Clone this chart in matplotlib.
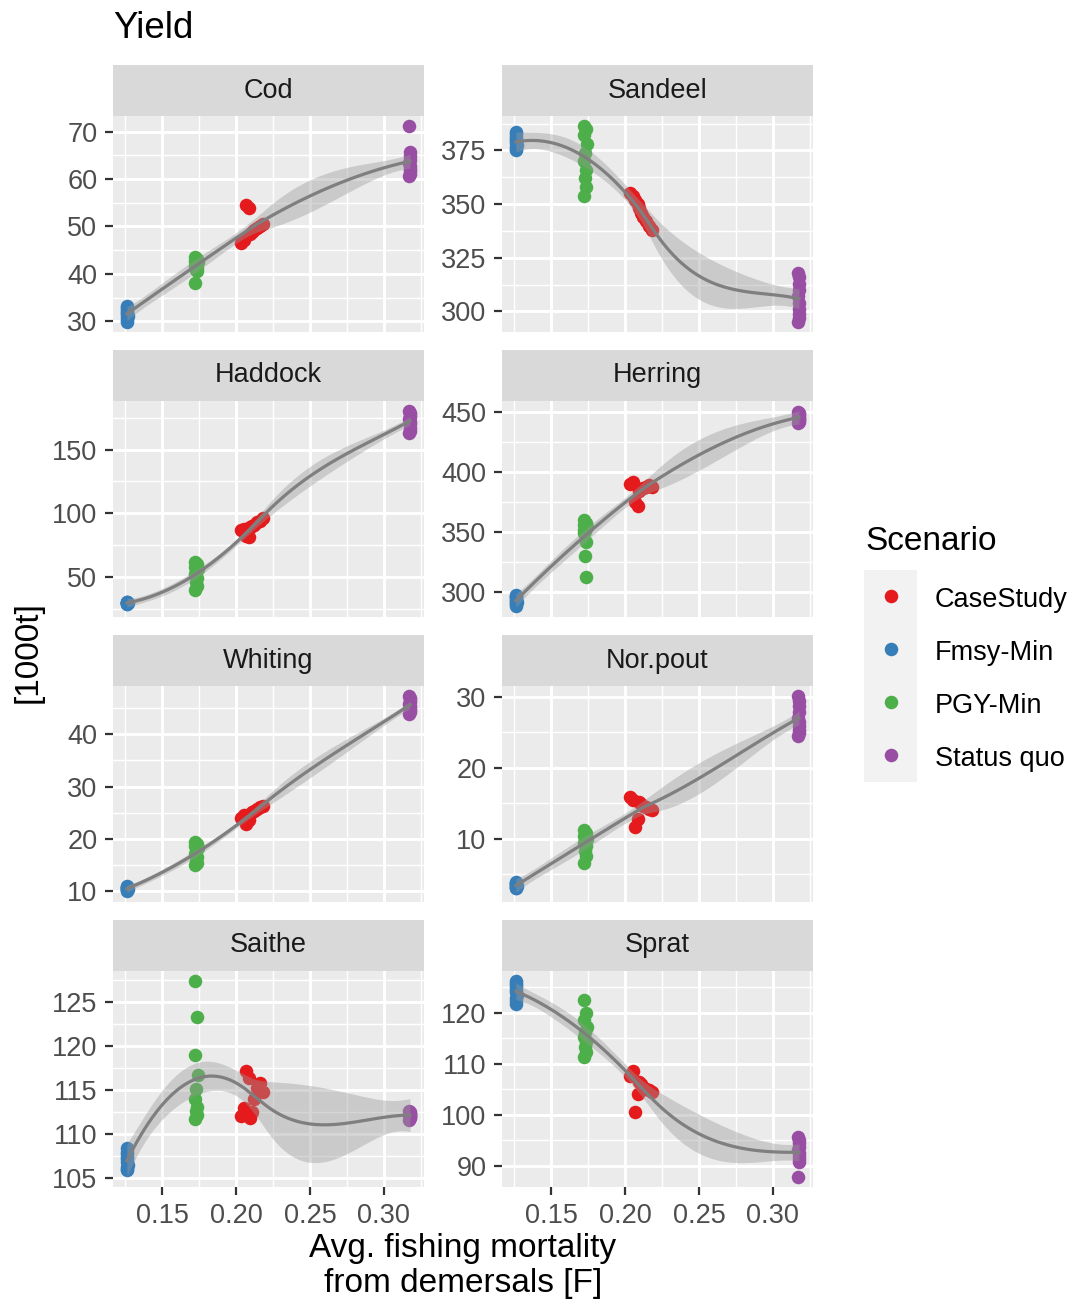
import numpy as np
import matplotlib.pyplot as plt
from matplotlib.patches import Rectangle
from matplotlib.ticker import MultipleLocator

plt.rcParams["font.family"] = ["Liberation Sans", "DejaVu Sans"]

SCENARIOS = ["CaseStudy", "Fmsy-Min", "PGY-Min", "Status quo"]
COLORS = ["#E41A1C", "#377EB8", "#4DAF4A", "#984EA3"]

SPECIES = ["Cod", "Sandeel", "Haddock", "Herring",
           "Whiting", "Nor.pout", "Saithe", "Sprat"]
Y_STEPS = [10, 25, 50, 50, 10, 10, 5, 10]

# avg. fishing mortality from demersals, one value per run
F_CASE = [0.2035, 0.2055, 0.2070, 0.2085, 0.2095, 0.2110, 0.2125, 0.2140, 0.2160, 0.2180]
F_FMSY = [0.1262, 0.1264, 0.1265, 0.1263, 0.1266, 0.1264, 0.1267, 0.1265, 0.1263, 0.1266]
F_PGY = [0.1720, 0.1738, 0.1725, 0.1742, 0.1730, 0.1722, 0.1735, 0.1728, 0.1733, 0.1726]
F_SQ = [0.3172, 0.3175, 0.3174, 0.3176, 0.3173, 0.3177, 0.3175, 0.3174, 0.3176, 0.3173]

# yield [1000t] per species: CaseStudy, Fmsy-Min, PGY-Min, Status quo
COD = {
    "case": [46.5, 47.2, 54.5, 53.8, 48.3, 48.8, 49.2, 49.6, 50.0, 50.4],
    "fmsy": [33.3, 33.0, 32.6, 32.2, 31.8, 31.5, 31.2, 30.8, 30.2, 29.8],
    "pgy": [43.6, 43.2, 42.8, 42.4, 42.0, 41.6, 41.2, 40.9, 40.6, 38.0],
    "sq": [71.2, 65.6, 64.8, 64.0, 63.4, 62.8, 62.2, 61.6, 61.0, 60.6],
}
SANDEEL = {
    "case": [355.0, 354.0, 352.0, 350.0, 348.0, 346.0, 344.0, 342.0, 340.0, 338.0],
    "fmsy": [383.5, 382.5, 381.5, 380.5, 379.5, 378.5, 377.5, 376.5, 375.5, 375.0],
    "pgy": [386.5, 385.0, 382.0, 378.0, 374.0, 370.0, 366.0, 362.0, 358.0, 354.0],
    "sq": [318.0, 316.0, 313.0, 310.0, 307.0, 304.0, 301.0, 299.0, 297.0, 295.0],
}
HADDOCK = {
    "case": [87.0, 88.0, 82.0, 81.0, 89.0, 90.0, 91.0, 93.0, 94.0, 96.0],
    "fmsy": [30.5, 30.2, 30.0, 29.8, 29.6, 29.5, 29.3, 29.2, 29.0, 28.8],
    "pgy": [62.0, 60.0, 58.0, 56.0, 54.0, 52.0, 49.0, 46.0, 43.0, 40.0],
    "sq": [180.5, 179.0, 177.5, 176.0, 174.0, 172.0, 170.0, 167.0, 165.0, 163.0],
}
HERRING = {
    "case": [390.0, 392.0, 375.0, 372.0, 384.0, 386.0, 387.0, 388.0, 389.0, 388.0],
    "fmsy": [298.0, 297.0, 296.0, 295.0, 294.0, 293.0, 292.0, 291.0, 290.0, 289.0],
    "pgy": [360.0, 358.0, 356.0, 354.0, 351.0, 349.0, 342.0, 330.0, 313.0, 352.0],
    "sq": [450.0, 449.0, 448.0, 447.0, 446.0, 445.0, 444.0, 443.0, 442.0, 441.0],
}
WHITING = {
    "case": [24.0, 24.6, 22.9, 23.6, 24.8, 25.1, 25.4, 25.7, 26.0, 26.3],
    "fmsy": [10.9, 10.8, 10.7, 10.6, 10.5, 10.4, 10.3, 10.2, 10.1, 10.0],
    "pgy": [19.4, 19.0, 18.6, 18.2, 17.6, 17.0, 16.4, 15.8, 15.3, 15.0],
    "sq": [47.4, 47.0, 46.6, 46.2, 45.8, 45.4, 45.0, 44.6, 44.3, 44.0],
}
NORPOUT = {
    "case": [15.8, 15.5, 11.6, 12.8, 15.2, 14.9, 14.6, 14.4, 14.2, 14.0],
    "fmsy": [3.9, 3.8, 3.7, 3.6, 3.5, 3.4, 3.3, 3.2, 3.1, 3.0],
    "pgy": [11.2, 10.8, 10.4, 10.0, 9.7, 9.4, 9.0, 8.3, 7.5, 6.6],
    "sq": [30.1, 29.4, 28.6, 27.8, 27.0, 26.4, 25.8, 25.3, 24.8, 24.4],
}
SAITHE = {
    "case": [112.0, 113.0, 117.2, 116.4, 111.8, 112.5, 114.0, 115.2, 115.8, 114.8],
    "fmsy": [108.4, 108.0, 107.7, 107.4, 107.1, 106.8, 106.5, 106.2, 106.0, 105.9],
    "pgy": [127.4, 123.3, 119.0, 116.7, 115.1, 114.0, 113.1, 112.6, 112.1, 111.7],
    "sq": [112.6, 112.5, 112.4, 112.3, 112.2, 112.1, 112.0, 111.9, 111.8, 111.6],
}
SPRAT = {
    "case": [107.5, 108.5, 100.5, 104.0, 106.5, 106.0, 105.5, 105.0, 104.8, 104.5],
    "fmsy": [126.2, 125.8, 125.4, 125.0, 124.5, 124.0, 123.4, 122.8, 122.2, 121.6],
    "pgy": [122.5, 120.0, 118.5, 117.2, 116.2, 115.2, 114.2, 113.2, 112.2, 111.4],
    "sq": [95.6, 95.0, 94.4, 93.8, 93.2, 92.6, 92.0, 91.4, 90.8, 87.8],
}
YIELDS = [COD, SANDEEL, HADDOCK, HERRING, WHITING, NORPOUT, SAITHE, SPRAT]

W, H = 1071, 1305
COL_X = [113, 502]
ROW_Y = [116, 401, 686, 971]
PANEL_W, PANEL_H, STRIP_H = 311, 216, 51

AXIS_TEXT = 19.5
TITLE_TEXT = 24
GREY_TEXT = "#4D4D4D"
SPAN = 0.9


def px_rect(x, y, w, h):
    return [x / W, 1 - (y + h) / H, w / W, h / H]


# --- loess roughly the way R does it (kd-tree vertices + cubic interpolation)
def local_fit(x, x0, q):
    d = np.abs(x - x0)
    h = np.sort(d)[q - 1]
    w = np.clip(1 - (d / h) ** 3, 0, None) ** 3
    w[d > 0.999 * h] = 0
    sw = np.sqrt(w)
    X = np.column_stack([np.ones(len(x)), x - x0, (x - x0) ** 2])
    A = X * sw[:, None]
    scale = np.linalg.norm(A, axis=0)
    scale[scale == 0] = 1
    P = np.linalg.pinv(A / scale, rcond=1e-7) / scale[:, None]
    ops = P * sw[None, :]
    return ops[0], ops[1]


def kd_vertices(x, fc):
    xs = np.sort(x)
    mu = 0.005 * (xs[-1] - xs[0])
    verts = [xs[0] - mu, xs[-1] + mu]

    def split(l, u, lo_v, hi_v):
        if u - l + 1 <= fc:
            return
        m = (l + u + 2) // 2 - 1
        offset = 0
        while l <= m + offset < u:
            if xs[m + offset] == xs[m + offset + 1]:
                offset = -offset
                if offset >= 0:
                    offset += 1
            else:
                m = m + offset
                break
        v = xs[m]
        if v == lo_v or v == hi_v:
            return
        verts.append(v)
        split(l, m, lo_v, v)
        split(m + 1, u, v, hi_v)

    split(0, len(xs) - 1, verts[0], verts[1])
    return np.array(sorted(set(verts)))


def loess(x, y, x_new, span=SPAN, cell=0.2):
    n = len(x)
    q = int(np.floor(n * span))
    fc = int(np.floor(n * span * cell))
    verts = kd_vertices(x, fc)
    rows = [local_fit(x, v, q) for v in verts]
    val = np.array([r[0] for r in rows])
    slope = np.array([r[1] for r in rows])

    def operator(t):
        out = []
        for ti in t:
            j = np.clip(np.searchsorted(verts, ti) - 1, 0, len(verts) - 2)
            a, b = verts[j], verts[j + 1]
            hh = b - a
            s = (ti - a) / hh
            h00 = 2 * s ** 3 - 3 * s ** 2 + 1
            h10 = s ** 3 - 2 * s ** 2 + s
            h01 = -2 * s ** 3 + 3 * s ** 2
            h11 = s ** 3 - s ** 2
            out.append(h00 * val[j] + h10 * hh * slope[j]
                       + h01 * val[j + 1] + h11 * hh * slope[j + 1])
        return np.array(out)

    L = operator(x)
    L_new = operator(x_new)
    resid = y - L @ y
    I_L = np.eye(n) - L
    delta = np.trace(I_L.T @ I_L)
    s = np.sqrt(np.sum(resid ** 2) / delta)
    fit = L_new @ y
    se = s * np.sqrt(np.sum(L_new ** 2, axis=1))
    return fit, se


fig = plt.figure(figsize=(W / 100, H / 100), dpi=100)

x_groups = [F_CASE, F_FMSY, F_PGY, F_SQ]
keys = ["case", "fmsy", "pgy", "sq"]

for i, name in enumerate(SPECIES):
    col, row = i % 2, i // 2
    ax = fig.add_axes(px_rect(COL_X[col], ROW_Y[row], PANEL_W, PANEL_H))
    strip = fig.add_axes(px_rect(COL_X[col], ROW_Y[row] - STRIP_H, PANEL_W, STRIP_H))
    strip.set_facecolor("#D9D9D9")
    strip.set_xticks([])
    strip.set_yticks([])
    for sp in strip.spines.values():
        sp.set_visible(False)
    strip.text(0.5, 0.5, name, ha="center", va="center",
               fontsize=AXIS_TEXT, color="#1A1A1A", transform=strip.transAxes)

    data = YIELDS[i]
    all_x, all_y = [], []
    for xs, key, color in zip(x_groups, keys, COLORS):
        ax.scatter(xs, data[key], s=95, color=color, linewidths=0, zorder=2)
        all_x += xs
        all_y += data[key]

    all_x = np.array(all_x)
    all_y = np.array(all_y)
    grid_x = np.linspace(all_x.min(), all_x.max(), 80)
    fit, se = loess(all_x, all_y, grid_x)
    ax.fill_between(grid_x, fit - 2.03 * se, fit + 2.03 * se,
                    color="#999999", alpha=0.4, lw=0, zorder=3)
    ax.plot(grid_x, fit, color="#7F7F7F", lw=2.3, zorder=4)

    ax.margins(x=0.05, y=0.05)
    ax.set_facecolor("#EBEBEB")
    for sp in ax.spines.values():
        sp.set_visible(False)
    ax.xaxis.set_major_locator(MultipleLocator(0.05))
    ax.xaxis.set_minor_locator(MultipleLocator(0.025))
    ax.yaxis.set_major_locator(MultipleLocator(Y_STEPS[i]))
    ax.yaxis.set_minor_locator(MultipleLocator(Y_STEPS[i] / 2))
    ax.grid(which="major", color="white", lw=2.1)
    ax.grid(which="minor", color="white", lw=1.05)
    ax.set_axisbelow(True)
    ax.tick_params(which="minor", length=0)
    ax.tick_params(axis="y", which="major", length=5.8, width=1.6, color="#333333",
                   labelsize=AXIS_TEXT, labelcolor=GREY_TEXT, pad=5.5)
    if row == 3:
        ax.tick_params(axis="x", which="major", length=5.8, width=1.6, color="#333333",
                       labelsize=AXIS_TEXT, labelcolor=GREY_TEXT, pad=5.5)
        ax.xaxis.set_major_formatter(lambda v, p: f"{v:.2f}")
    else:
        ax.tick_params(axis="x", which="major", length=0, labelbottom=False)
    ax.set_xlim(0.1168, 0.3272)

fig.text(113 / W, 1 - 28 / H, "Yield", fontsize=26.5, ha="left", va="center")
fig.text(28 / W, 1 - 652 / H, "[1000t]", fontsize=TITLE_TEXT, rotation=90,
         ha="center", va="center")
fig.text(463 / W, 1 - 1257 / H, "Avg. fishing mortality", fontsize=TITLE_TEXT,
         ha="center", va="baseline")
fig.text(463 / W, 1 - 1292 / H, "from demersals [F]", fontsize=TITLE_TEXT,
         ha="center", va="baseline")

# legend
fig.text(865 / W, 1 - 550 / H, "Scenario", fontsize=TITLE_TEXT, ha="left", va="baseline")
leg = fig.add_axes([0, 0, 1, 1], facecolor="none")
leg.set_xlim(0, W)
leg.set_ylim(H, 0)
leg.axis("off")
leg.add_patch(Rectangle((864, 570), 53, 212, color="#F2F2F2", lw=0))
for k, (label, color) in enumerate(zip(SCENARIOS, COLORS)):
    yk = 596 + 53 * k
    leg.scatter([890.5], [yk], s=95, color=color, linewidths=0)
    leg.text(935, yk + 11, label, fontsize=AXIS_TEXT, ha="left", va="baseline")

fig.savefig("out.png", dpi=100)
